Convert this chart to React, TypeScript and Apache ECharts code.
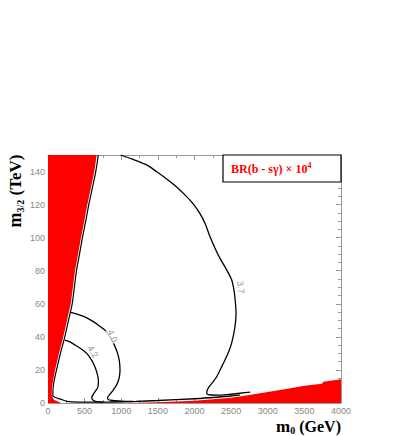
import React, { useEffect, useRef } from 'react';
import * as echarts from 'echarts';

// m0 (GeV), m3/2 (TeV)
const excludedLeft: number[][] = [
  [0, 0], [180, 0], [80, 2], [50, 5], [55, 10], [96, 20], [150, 30], [209, 40], [260, 50],
  [310, 60], [340, 70], [369, 80], [410, 90], [450, 100], [495, 110], [537, 120],
  [585, 130], [632, 140], [665, 150], [0, 150],
];
const excludedRight: number[][] = [
  [1050, 0], [1500, 0.5], [2000, 1.3], [2500, 3.1], [2750, 4.8], [3000, 6.6], [3250, 8.4],
  [3500, 10.4], [3740, 11.6], [3760, 12.8], [4000, 14.3], [4000, 0],
];
const boundaryLine: number[][] = [
  [687, 150], [652, 140], [605, 130], [557, 120], [515, 110], [470, 100], [430, 90],
  [389, 80], [360, 70], [330, 60], [280, 50], [229, 40], [170, 30], [116, 20], [78, 12],
  [68, 8], [66, 4.5], [100, 3.3], [180, 2.2], [260, 1.0], [400, 0.5], [600, 0.5],
];
const bottomLine: number[][] = [
  [600, 0.5], [846, 0.6], [1200, 1.0], [1500, 1.5], [2000, 2.6], [2200, 3.2], [2500, 4.2], [2620, 4.9],
];
const contour42: number[][] = [
  [229, 38], [300, 37], [392, 34.5], [470, 32.2], [528, 30], [580, 27], [619, 24], [660, 19.5],
  [685, 15], [688, 12], [675, 9], [642, 6.9], [610, 4.6], [598, 3.2], [620, 1.5], [665, 0.8], [750, 0.5],
];
const contour40: number[][] = [
  [300, 55], [437, 53.2], [530, 51.5], [619, 49.2], [720, 46], [801, 43.1], [870, 38.2],
  [915, 34.1], [950, 30], [974, 25.5], [983, 20], [975, 16], [958, 13.2], [930, 10.5],
  [892, 7.9], [850, 5.5], [812, 3.2], [822, 2.2], [846, 1.7], [1000, 1.1], [1165, 0.9],
];
const contour37: number[][] = [
  [992, 150], [1150, 147.5], [1347, 144], [1480, 140], [1620, 135.5], [1760, 130.5],
  [1893, 124.8], [1990, 120], [2075, 114.5], [2150, 108], [2212, 100.6], [2330, 89],
  [2439, 80.5], [2508, 74.4], [2540, 68], [2556, 62], [2567, 54.3], [2562, 50], [2550, 45.5],
  [2532, 41], [2506, 36.1], [2466, 31], [2416, 26], [2360, 21], [2303, 15.9], [2250, 12.6],
  [2205, 10.2], [2172, 7.6], [2168, 5.8], [2200, 5.0], [2348, 4.8], [2500, 5.3], [2621, 5.9],
  [2760, 6.6],
];
const contourLabels = [
  { value: [880, 40.5], text: '4.0', rotate: -68 },
  { value: [612, 31], text: '4.2', rotate: -58 },
  { value: [2630, 70], text: '3.7', rotate: -82 },
];
const xTickLabels = ['0', '500', '1000', '1500', '2000', '2500', '3000', '3500', '4000'];
const yTickLabels = ['0', '20', '40', '60', '80', '100', '120', '140'];

const GRAY = '#999999';
const SERIF = '"Liberation Serif", "Times New Roman", serif';
const SANS = '"Liberation Sans", Arial, sans-serif';

function polygonSeries(points: number[][]) {
  return {
    type: 'custom',
    data: points,
    clip: true,
    silent: true,
    z: 1,
    encode: { x: 0, y: 1 },
    renderItem: (params: any, api: any) => {
      if (params.dataIndex !== 0) return null;
      return {
        type: 'polygon',
        shape: { points: points.map((p) => api.coord(p)) },
        style: { fill: '#ff0000', stroke: 'none' },
      };
    },
  };
}

function lineSeries(points: number[][], width = 1.3) {
  return {
    type: 'line',
    data: points,
    symbol: 'none',
    smooth: 0.25,
    silent: true,
    z: 3,
    lineStyle: { color: '#000000', width },
  };
}

function axisCommon(showLabels: boolean, labels: string[], minorSplit: number) {
  return {
    type: 'value',
    axisLine: { show: true, onZero: false, lineStyle: { color: GRAY, width: 1 } },
    axisTick: { show: true, inside: true, length: 5, lineStyle: { color: GRAY } },
    minorTick: { show: true, splitNumber: minorSplit, length: 3, lineStyle: { color: GRAY } },
    splitLine: { show: false },
    minorSplitLine: { show: false },
    axisLabel: {
      show: showLabels,
      color: '#888888',
      fontSize: 9,
      fontFamily: SANS,
      margin: 3,
      formatter: (v: number) => {
        const s = String(v);
        return labels.includes(s) ? s : '';
      },
    },
  };
}

export default function App() {
  const ref = useRef<HTMLDivElement>(null);
  useEffect(() => {
    document.body.style.margin = '0';
    if (!ref.current) return;
    const chart = echarts.init(ref.current, null, { renderer: 'svg' });
    const option: any = {
      animation: false,
      backgroundColor: '#ffffff',
      grid: { left: 48, right: 68, top: 155, bottom: 33, containLabel: false },
      xAxis: [
        { ...axisCommon(true, xTickLabels, 2), min: 0, max: 4000, interval: 500, position: 'bottom' },
        { ...axisCommon(false, xTickLabels, 2), min: 0, max: 4000, interval: 500, position: 'top' },
      ],
      yAxis: [
        { ...axisCommon(true, yTickLabels, 4), min: 0, max: 150, interval: 20, position: 'left' },
        { ...axisCommon(false, yTickLabels, 4), min: 0, max: 150, interval: 20, position: 'right' },
      ],
      series: [
        polygonSeries(excludedLeft),
        polygonSeries(excludedRight),
        lineSeries(boundaryLine, 1.2),
        lineSeries(bottomLine, 1.4),
        lineSeries(contour42),
        lineSeries(contour40),
        lineSeries(contour37),
        {
          type: 'scatter',
          symbolSize: 0,
          silent: true,
          z: 4,
          data: contourLabels.map((d) => ({
            value: d.value,
            label: {
              show: true,
              position: 'inside',
              formatter: d.text,
              rotate: d.rotate,
              color: '#777777',
              fontSize: 9,
              fontFamily: SANS,
              backgroundColor: '#ffffff',
              padding: [0, 1],
            },
          })),
        },
      ],
      graphic: [
        {
          type: 'rect',
          shape: { x: 223, y: 155, width: 118, height: 27 },
          style: { fill: '#ffffff', stroke: '#000000', lineWidth: 1.2 },
          z: 10,
        },
        {
          type: 'text',
          x: 231,
          y: 169,
          z: 11,
          style: {
            text: '{a|BR(b - sγ) × 10}{b|4}',
            verticalAlign: 'middle',
            rich: {
              a: { fontFamily: SERIF, fontWeight: 'bold', fontSize: 12, fill: '#ff0000' },
              b: { fontFamily: SERIF, fontWeight: 'bold', fontSize: 8, fill: '#ff0000', padding: [0, 0, 8, 0] },
            },
          },
        },
        {
          type: 'text',
          x: 341,
          y: 426,
          z: 11,
          style: {
            text: '{m|m}{s|0}{t| (GeV)}',
            align: 'right',
            verticalAlign: 'middle',
            rich: {
              m: { fontFamily: SERIF, fontWeight: 'bold', fontSize: 17, lineHeight: 17, fill: '#000' },
              s: { fontFamily: SERIF, fontWeight: 'bold', fontSize: 10, fill: '#000', padding: [8, 0, 0, 0] },
              t: { fontFamily: SERIF, fontWeight: 'bold', fontSize: 16, lineHeight: 17, fill: '#000' },
            },
          },
        },
        {
          type: 'text',
          x: 15,
          y: 191,
          rotation: Math.PI / 2,
          z: 11,
          style: {
            text: '{m|m}{s|3/2}{t| (TeV)}',
            align: 'center',
            verticalAlign: 'middle',
            rich: {
              m: { fontFamily: SERIF, fontWeight: 'bold', fontSize: 18, fill: '#000' },
              s: { fontFamily: SERIF, fontWeight: 'bold', fontSize: 10, fill: '#000', padding: [10, 0, 0, 0] },
              t: { fontFamily: SERIF, fontWeight: 'bold', fontSize: 17, fill: '#000' },
            },
          },
        },
      ],
    };
    chart.setOption(option);
    return () => chart.dispose();
  }, []);
  return <div ref={ref} style={{ width: 409, height: 436 }} />;
}
